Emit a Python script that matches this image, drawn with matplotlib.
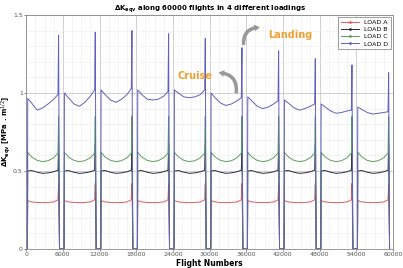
import matplotlib.pyplot as plt
from matplotlib.lines import Line2D
from matplotlib.patches import FancyArrowPatch
from matplotlib.ticker import MultipleLocator

# --- datos ---
cycle_len = 6000
n_cycles = 10
# vuelos (desde el inicio de cada ciclo) donde se leen los valores de crucero
prof_x = [250, 900, 1800, 2700, 3600, 4500, 5200]
rise_x = 200      # la curva sube desde 0
spike_x = 5300    # pico de aterrizaje
drop_x = 5450     # la curva cae a 0

load_a = [0.31, 0.302, 0.298, 0.297, 0.298, 0.302, 0.315]
load_b = [0.50, 0.503, 0.492, 0.485, 0.488, 0.495, 0.505]
load_c = [0.62, 0.59, 0.568, 0.56, 0.566, 0.585, 0.615]
spike_a = 0.42
spike_b = 0.67
spike_c = 0.85

load_d = [
    [0.965, 0.935, 0.89, 0.905, 0.93, 0.96, 0.99],
    [1.00, 0.97, 0.93, 0.915, 0.94, 0.98, 1.02],
    [1.02, 0.99, 0.955, 0.94, 0.96, 0.99, 1.03],
    [1.02, 0.99, 0.96, 0.955, 0.96, 0.98, 1.01],
    [1.02, 1.00, 0.975, 0.97, 0.975, 0.99, 1.02],
    [1.00, 0.97, 0.935, 0.92, 0.93, 0.95, 0.97],
    [0.975, 0.95, 0.915, 0.90, 0.91, 0.93, 0.95],
    [0.955, 0.935, 0.905, 0.89, 0.90, 0.915, 0.93],
    [0.93, 0.91, 0.885, 0.87, 0.875, 0.885, 0.89],
    [0.91, 0.895, 0.875, 0.865, 0.87, 0.875, 0.88],
]
spike_d = [1.37, 1.39, 1.40, 1.38, 1.35, 1.29, 1.27, 1.22, 1.18, 1.13]

labels = ['LOAD A', 'LOAD B', 'LOAD C', 'LOAD D']
colors = ['#e06060', '#2a2a3a', '#5aa05a', '#6060c0']
xticks = list(range(0, 60001, 6000))
yticks = [0, 0.5, 1, 1.5]


def build_series(profiles, spikes):
    xs, ys = [], []
    for k in range(n_cycles):
        x0 = k * cycle_len
        xs.append(x0 + rise_x)
        ys.append(0)
        for px, v in zip(prof_x, profiles[k]):
            xs.append(x0 + px)
            ys.append(v)
        xs += [x0 + spike_x, x0 + drop_x]
        ys += [spikes[k], 0]
    return xs, ys


series = [
    build_series([load_a] * n_cycles, [spike_a] * n_cycles),
    build_series([load_b] * n_cycles, [spike_b] * n_cycles),
    build_series([load_c] * n_cycles, [spike_c] * n_cycles),
    build_series(load_d, spike_d),
]

fig = plt.figure(figsize=(4.03, 2.68), dpi=100)
ax = fig.add_axes([0.065, 0.071, 0.91, 0.873])

for (xs, ys), c in zip(series, colors):
    ax.plot(xs, ys, color=c, linewidth=0.7)

ax.set_xlim(0, 60000)
ax.set_ylim(0, 1.5)
ax.set_xticks(xticks)
ax.set_yticks(yticks)
ax.set_yticklabels(['0', '0.5', '1', '1.5'])
ax.xaxis.set_minor_locator(MultipleLocator(1500))
ax.yaxis.set_minor_locator(MultipleLocator(0.1))
ax.tick_params(labelsize=4.5, length=1.5, width=0.5, pad=1, colors='#555555')
ax.tick_params(which='minor', length=0)
ax.grid(True, which='major', color='#c8c8c8', linewidth=0.6)
ax.grid(True, which='minor', color='#ececec', linewidth=0.4)
ax.set_axisbelow(True)
for s in ax.spines.values():
    s.set_color('#888888')
    s.set_linewidth(0.6)

ax.set_xlabel('Flight Numbers', fontsize=5.5, fontweight='bold', labelpad=1)
ax.set_ylabel(r'$\mathbf{\Delta K_{eqv}}$ [MPa . m$^{1/2}$]', fontsize=5,
              fontweight='bold')
ax.yaxis.set_label_coords(-0.036, 0.5)
ax.set_title(r'$\mathbf{\Delta K_{eqv}}$ along 60000 flights in 4 different loadings',
             fontsize=5, fontweight='bold', pad=3)

handles = [Line2D([0], [0], color=c, linewidth=0.7, marker='.', markersize=2)
           for c in colors]
leg = ax.legend(handles, labels, loc='upper right', fontsize=4.5, frameon=True,
                fancybox=False, edgecolor='#555555', borderpad=0.4,
                handlelength=3, labelspacing=0.3, borderaxespad=0.3)
leg.get_frame().set_linewidth(0.5)

# anotaciones
arrow_style = 'simple,head_width=5,head_length=4,tail_width=2.5'
ax.text(27600, 1.11, 'Cruise', color='#f0a030', fontsize=7, fontweight='bold',
        ha='center', va='center')
ax.add_patch(FancyArrowPatch((34300, 0.98), (31000, 1.13),
                             connectionstyle='arc3,rad=0.6',
                             arrowstyle=arrow_style, color='#999999', lw=0))
ax.text(43200, 1.37, 'Landing', color='#f0a030', fontsize=7, fontweight='bold',
        ha='center', va='center')
ax.add_patch(FancyArrowPatch((35600, 1.29), (38700, 1.42),
                             connectionstyle='arc3,rad=-0.6',
                             arrowstyle=arrow_style, color='#999999', lw=0))

fig.savefig('out.png', dpi=100)
